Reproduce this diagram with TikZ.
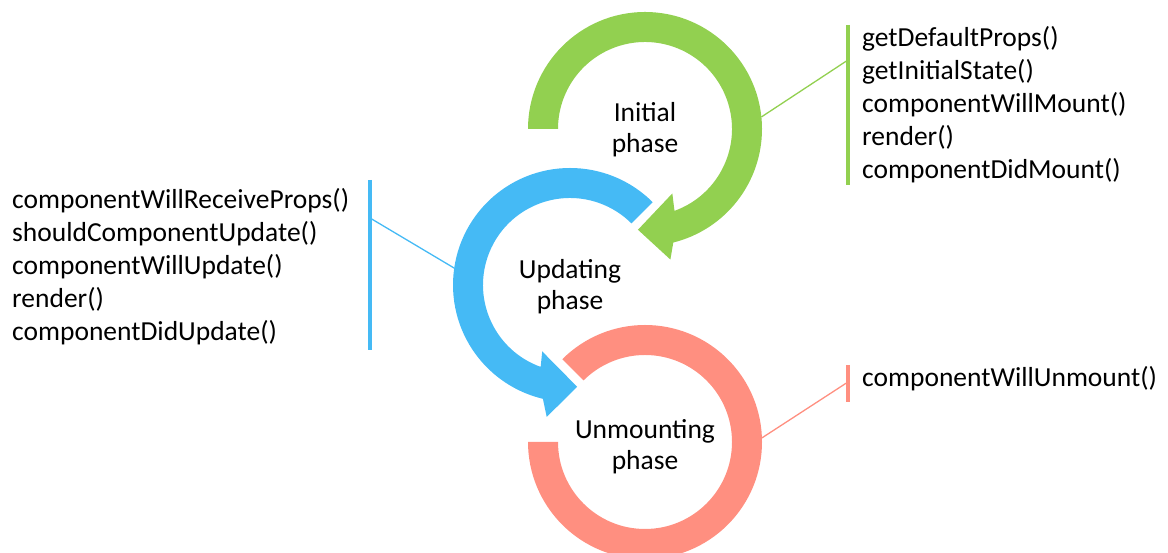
\documentclass[tikz,border=0pt]{standalone}
\usepackage{fontspec}
\setmainfont{Carlito}
\usetikzlibrary{calc}
\definecolor{cgreen}{HTML}{92D050}
\definecolor{cblue}{HTML}{45BAF5}
\definecolor{cred}{HTML}{FF8F80}
\begin{document}
\begin{tikzpicture}[x=1pt,y=1pt,
 lbl/.style={align=center, font=\fontsize{27.5}{31}\selectfont, inner sep=0},
 lst/.style={align=left, font=\fontsize{27.5}{33}\selectfont, inner sep=0},
 bar/.style={line width=4pt},
 link/.style={line width=1.3pt}]
\useasboundingbox (0,0) rectangle (1168,553);
\clip (0,0) rectangle (1168,553);
\coordinate (G) at (645,424);
\coordinate (B) at (570,268);
\coordinate (R) at (645,111);
% green arrow
\fill[cgreen] ($(G)+(180:117)$) arc[start angle=180,end angle=-76,radius=117]
  -- ($(G)+(-79:133)$) -- ($(G)+(-94:101)$) -- ($(G)+(-67:70)$)
  -- ($(G)+(-70.2:87)$) arc[start angle=-70.2,end angle=180,radius=87] -- cycle;
% blue arrow
\fill[cblue] ($(B)+(45:117)$) arc[start angle=45,end angle=256.6,radius=117]
  -- ($(B)+(260:134)$) -- ($(B)+(274:102)$) -- ($(B)+(247.3:72)$)
  -- ($(B)+(250.3:87)$) arc[start angle=250.3,end angle=45,radius=87] -- cycle;
% red ring
\fill[cred] ($(R)+(135:117)$) arc[start angle=135,end angle=-180,radius=117]
  -- ($(R)+(-180:87)$) arc[start angle=-180,end angle=135,radius=87] -- cycle;
% labels
\node[lbl] (gt) at (645,423.2) {Initial\\phase};
\node[lbl] (bt) at (570,266.2) {Updating\\phase};
\node[lbl] (rt) at (645,106.2) {Unmounting\\phase};
% bars
\draw[bar,cgreen] (848,528) -- (848,368);
\draw[bar,cblue] (370,373) -- (370,203);
\draw[bar,cred] (848,188) -- (848,151);
% link endpoints
\coordinate (gb) at (848,493);
\coordinate (ge) at ($(G)+(5.9:117)$);
\coordinate (bb) at (370,335);
\coordinate (be) at ($(B)+(171.7:117)$);
\coordinate (rb) at (848,171);
\coordinate (re) at ($(R)+(2:117)$);
\draw[link,cgreen] (gb) -- (ge);
\draw[link,cblue] (bb) -- (be);
\draw[link,cred] (rb) -- (re);
% lists
\node[lst,anchor=west] (gl) at (862,448) {getDefaultProps()\\getInitialState()\\componentWillMount()\\render()\\componentDidMount()};
\node[lst,anchor=west] (bl) at (12,286.5) {componentWillReceiveProps()\\shouldComponentUpdate()\\componentWillUpdate()\\render()\\componentDidUpdate()};
\node[lst,anchor=base west] (rl) at (862,166) {componentWillUnmount()};
\end{tikzpicture}
\end{document}
